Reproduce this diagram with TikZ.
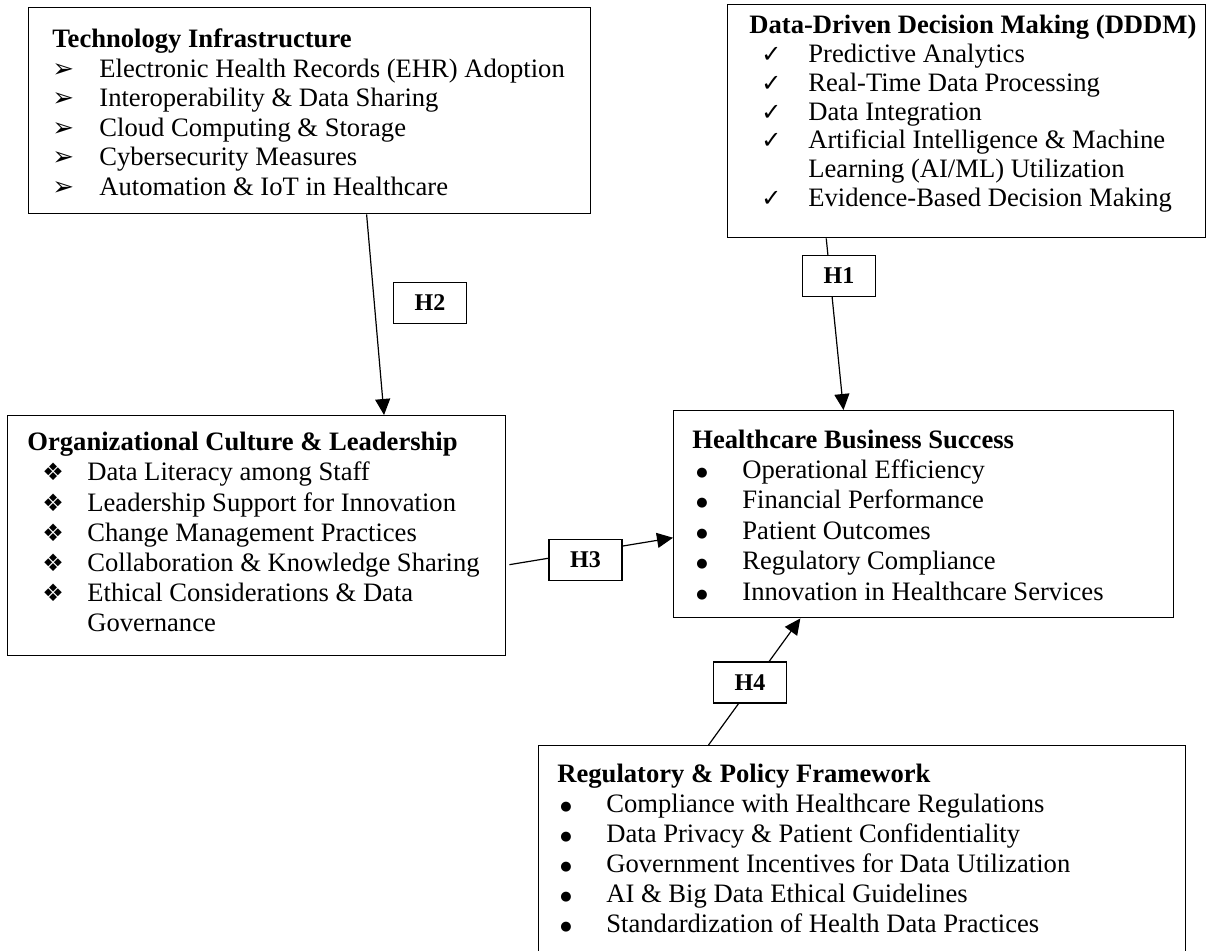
\documentclass[tikz,border=0pt]{standalone}
\usepackage{fontspec}
\setmainfont{Liberation Serif}
\newfontfamily\dingfont{DejaVu Sans}
\usepackage{xcolor}
\definecolor{cLine}{HTML}{000000}
\usepackage{tikz}
\usetikzlibrary{positioning,arrows.meta,calc}
\tikzset{
  node-box/.style={draw=cLine,line width=0.7pt,fill=white,inner sep=0pt,
    anchor=north west},
  node-list/.style={anchor=base west,inner sep=0pt},
  node-hyp/.style={draw=cLine,line width=0.6pt,fill=white,inner sep=0pt,
    minimum width=36.5pt,minimum height=20.5pt,
    font=\fontsize{12}{14}\selectfont\bfseries},
  arrow/.style={-{Triangle[length=8pt,width=7.5pt]},line width=0.6pt,draw=cLine},
}
% list markers
\newcommand{\bulArrow}{{\dingfont\fontsize{13}{13}\selectfont ➢}}
\newcommand{\bulCheck}{{\dingfont\fontsize{12}{12}\selectfont ✓}}
\newcommand{\bulDiamond}{{\dingfont\fontsize{12}{12}\selectfont ❖}}
\newcommand{\bulDot}{\raisebox{1pt}{\dingfont\fontsize{6.5}{6.5}\selectfont ●}}
% one list row: marker offset, marker column width, marker, text
\newcommand{\itm}[4]{\makebox[#2][l]{\hspace{#1}#3}&#4\\}
\newcommand{\ttl}[1]{\multicolumn{2}{@{}l@{}}{\textbf{#1}}\\}

\begin{document}
\begin{tikzpicture}[x=0.5pt,y=-0.5pt]
  \clip (0,0) rectangle (1208,951);

  % boxes
  \node[node-box,minimum width=281pt,minimum height=103pt]   (tech) at (28,7)   {};
  \node[node-box,minimum width=239pt,minimum height=116.5pt] (dddm) at (727,4)  {};
  \node[node-box,minimum width=249pt,minimum height=120pt]   (org)  at (7,415)  {};
  \node[node-box,minimum width=250pt,minimum height=103.5pt] (hbs)  at (673,410){};
  \node[node-box,minimum width=323.5pt,minimum height=115pt] (reg)  at (538,745){};

  % box contents
  \node[node-list,font=\fontsize{13.3}{14.75}\selectfont] (tech-txt) at (52,48) {%
    \begin{tabular}[t]{@{}l@{}l@{}}
      \ttl{Technology Infrastructure}
      \itm{0pt}{23.5pt}{\bulArrow}{Electronic Health Records (EHR) Adoption}
      \itm{0pt}{23.5pt}{\bulArrow}{Interoperability \& Data Sharing}
      \itm{0pt}{23.5pt}{\bulArrow}{Cloud Computing \& Storage}
      \itm{0pt}{23.5pt}{\bulArrow}{Cybersecurity Measures}
      \itm{0pt}{23.5pt}{\bulArrow}{Automation \& IoT in Healthcare}
    \end{tabular}};
  \node[node-list,font=\fontsize{13.3}{14.35}\selectfont] (dddm-txt) at (749,34) {%
    \begin{tabular}[t]{@{}l@{}l@{}}
      \ttl{Data-Driven Decision Making (DDDM)}
      \itm{6pt}{29.5pt}{\bulCheck}{Predictive Analytics}
      \itm{6pt}{29.5pt}{\bulCheck}{Real-Time Data Processing}
      \itm{6pt}{29.5pt}{\bulCheck}{Data Integration}
      \itm{6pt}{29.5pt}{\bulCheck}{Artificial Intelligence \& Machine}
      & Learning (AI/ML) Utilization\\
      \itm{6pt}{29.5pt}{\bulCheck}{Evidence-Based Decision Making}
    \end{tabular}};
  \node[node-list,font=\fontsize{13.3}{15}\selectfont] (org-txt) at (27,451) {%
    \begin{tabular}[t]{@{}l@{}l@{}}
      \ttl{Organizational Culture \& Leadership}
      \itm{7.5pt}{30pt}{\bulDiamond}{Data Literacy among Staff}
      \itm{7.5pt}{30pt}{\bulDiamond}{Leadership Support for Innovation}
      \itm{7.5pt}{30pt}{\bulDiamond}{Change Management Practices}
      \itm{7.5pt}{30pt}{\bulDiamond}{Collaboration \& Knowledge Sharing}
      \itm{7.5pt}{30pt}{\bulDiamond}{Ethical Considerations \& Data}
      & Governance\\
    \end{tabular}};
  \node[node-list,font=\fontsize{13.3}{15.2}\selectfont] (hbs-txt) at (692,448) {%
    \begin{tabular}[t]{@{}l@{}l@{}}
      \ttl{Healthcare Business Success}
      \itm{2pt}{25pt}{\bulDot}{Operational Efficiency}
      \itm{2pt}{25pt}{\bulDot}{Financial Performance}
      \itm{2pt}{25pt}{\bulDot}{Patient Outcomes}
      \itm{2pt}{25pt}{\bulDot}{Regulatory Compliance}
      \itm{2pt}{25pt}{\bulDot}{Innovation in Healthcare Services}
    \end{tabular}};
  \node[node-list,font=\fontsize{13.3}{15}\selectfont] (reg-txt) at (557,782) {%
    \begin{tabular}[t]{@{}l@{}l@{}}
      \ttl{Regulatory \& Policy Framework}
      \itm{1.5pt}{24.5pt}{\bulDot}{Compliance with Healthcare Regulations}
      \itm{1.5pt}{24.5pt}{\bulDot}{Data Privacy \& Patient Confidentiality}
      \itm{1.5pt}{24.5pt}{\bulDot}{Government Incentives for Data Utilization}
      \itm{1.5pt}{24.5pt}{\bulDot}{AI \& Big Data Ethical Guidelines}
      \itm{1.5pt}{24.5pt}{\bulDot}{Standardization of Health Data Practices}
    \end{tabular}};

  % hypothesised paths
  \draw[arrow] ($(tech.south west)!0.601!(tech.south east)$)
            -- ($(org.north west)!0.755!(org.north east)$);
  \draw[arrow] ($(dddm.south west)!0.207!(dddm.south east)$)
            -- ($(hbs.north west)!0.34!(hbs.north east)$);
  \draw[arrow] ($(org.north east)!0.62!(org.south east)+(3,0)$)
            -- ($(hbs.north west)!0.613!(hbs.south west)$);
  \draw[arrow] ($(reg.north west)!0.263!(reg.north east)$)
            -- ($(hbs.south west)!0.254!(hbs.south east)$);

  \node[node-hyp] (h2) at (430,303)   {H2};
  \node[node-hyp] (h1) at (839,276)   {H1};
  \node[node-hyp] (h3) at (585.5,560) {H3};
  \node[node-hyp] (h4) at (750,682.5) {H4};
\end{tikzpicture}
\end{document}
